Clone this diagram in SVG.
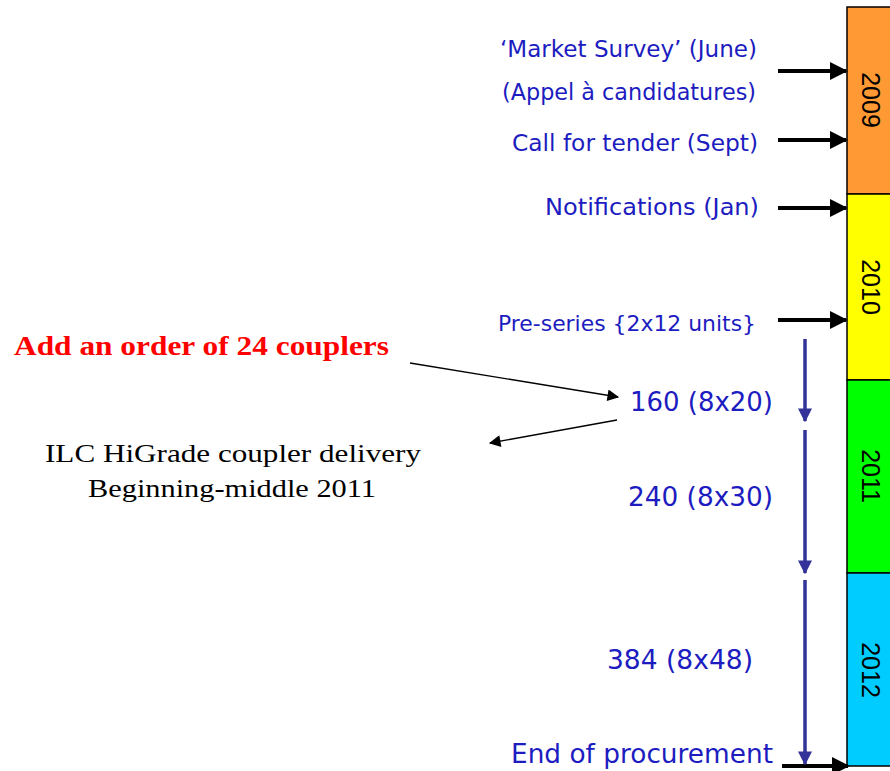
<svg xmlns="http://www.w3.org/2000/svg" width="890" height="771" viewBox="0 0 890 771">
<defs>
<marker id="bk" viewBox="0 0 10 10" refX="9" refY="5" markerWidth="4.5" markerHeight="4.5" orient="auto" markerUnits="strokeWidth"><path d="M0,0 L10,5 L0,10 z" fill="#000"/></marker>
<marker id="thin" viewBox="0 0 10 10" refX="9" refY="5" markerWidth="11" markerHeight="9" orient="auto" markerUnits="strokeWidth"><path d="M0,0 L10,5 L0,10 z" fill="#000"/></marker>
<marker id="bl" viewBox="0 0 10 10" refX="9" refY="5" markerWidth="4" markerHeight="4" orient="auto" markerUnits="strokeWidth"><path d="M0,0 L10,5 L0,10 z" fill="#333399"/></marker>
</defs>
<style>
.blue{font-family:"DejaVu Sans",sans-serif;fill:#1c1cc0;font-size:23px}
.big{font-size:26px}
.yr{font-family:"Liberation Sans",Arial,sans-serif;font-size:25px;fill:#000}
.seg{stroke:#000;stroke-width:1.5}
.ba{stroke:#000;stroke-width:4;marker-end:url(#bk)}
.va{stroke:#333399;stroke-width:3.5;marker-end:url(#bl)}
.ta{stroke:#000;stroke-width:1.3;marker-end:url(#thin)}
.serif{font-family:"Liberation Serif",serif;font-size:25px;fill:#000}
</style>
<rect width="890" height="771" fill="#fff"/>
<g id="bar">
<rect class="seg" x="847" y="7" width="50" height="187" fill="#ff9933"/>
<rect class="seg" x="847" y="194" width="50" height="186" fill="#ffff00"/>
<rect class="seg" x="847" y="380" width="50" height="193" fill="#00ff00"/>
<rect class="seg" x="847" y="573" width="50" height="193" fill="#00ccff"/>
<text class="yr" transform="translate(862,100) rotate(90)" text-anchor="middle">2009</text>
<text class="yr" transform="translate(862,287) rotate(90)" text-anchor="middle">2010</text>
<text class="yr" transform="translate(862,476) rotate(90)" text-anchor="middle">2011</text>
<text class="yr" transform="translate(862,670) rotate(90)" text-anchor="middle">2012</text>
</g>
<g id="labels">
<text class="blue" x="500" y="57" textLength="257" lengthAdjust="spacingAndGlyphs">‘Market Survey’ (June)</text>
<text class="blue" x="502" y="100" textLength="254" lengthAdjust="spacingAndGlyphs">(Appel à candidatures)</text>
<text class="blue" x="512" y="151" textLength="246" lengthAdjust="spacingAndGlyphs">Call for tender (Sept)</text>
<text class="blue" x="545" y="215" textLength="214" lengthAdjust="spacingAndGlyphs">Notifications (Jan)</text>
<text class="blue" x="498" y="331" textLength="258" lengthAdjust="spacingAndGlyphs" style="font-size:21px">Pre-series {2x12 units}</text>
<text class="blue big" x="630" y="411" textLength="143" lengthAdjust="spacingAndGlyphs">160 (8x20)</text>
<text class="blue big" x="628" y="506" textLength="145" lengthAdjust="spacingAndGlyphs">240 (8x30)</text>
<text class="blue big" x="607" y="669" textLength="146" lengthAdjust="spacingAndGlyphs">384 (8x48)</text>
<text class="blue big" x="511" y="763" textLength="262" lengthAdjust="spacingAndGlyphs">End of procurement</text>
<text x="14" y="355" textLength="375" lengthAdjust="spacingAndGlyphs" style="font-family:'Liberation Serif',serif;font-weight:bold;font-size:28px;fill:#ff0000">Add an order of 24 couplers</text>
<text class="serif" x="45" y="462" textLength="376" lengthAdjust="spacingAndGlyphs">ILC HiGrade coupler delivery</text>
<text class="serif" x="88" y="497" textLength="288" lengthAdjust="spacingAndGlyphs">Beginning-middle 2011</text>
</g>
<g id="connectors">
<line class="ba" x1="778" y1="71" x2="846" y2="71"/>
<line class="ba" x1="778" y1="140" x2="846" y2="140"/>
<line class="ba" x1="778" y1="208" x2="846" y2="208"/>
<line class="ba" x1="778" y1="320" x2="846" y2="320"/>
<line class="ba" x1="782" y1="766" x2="848" y2="766"/>
<line class="va" x1="805" y1="339" x2="805" y2="421"/>
<line class="va" x1="805" y1="430" x2="805" y2="573"/>
<line class="va" x1="805" y1="580" x2="805" y2="764"/>
<line class="ta" x1="410" y1="363" x2="618" y2="397"/>
<line class="ta" x1="617" y1="420" x2="490" y2="443"/>
</g>
</svg>
